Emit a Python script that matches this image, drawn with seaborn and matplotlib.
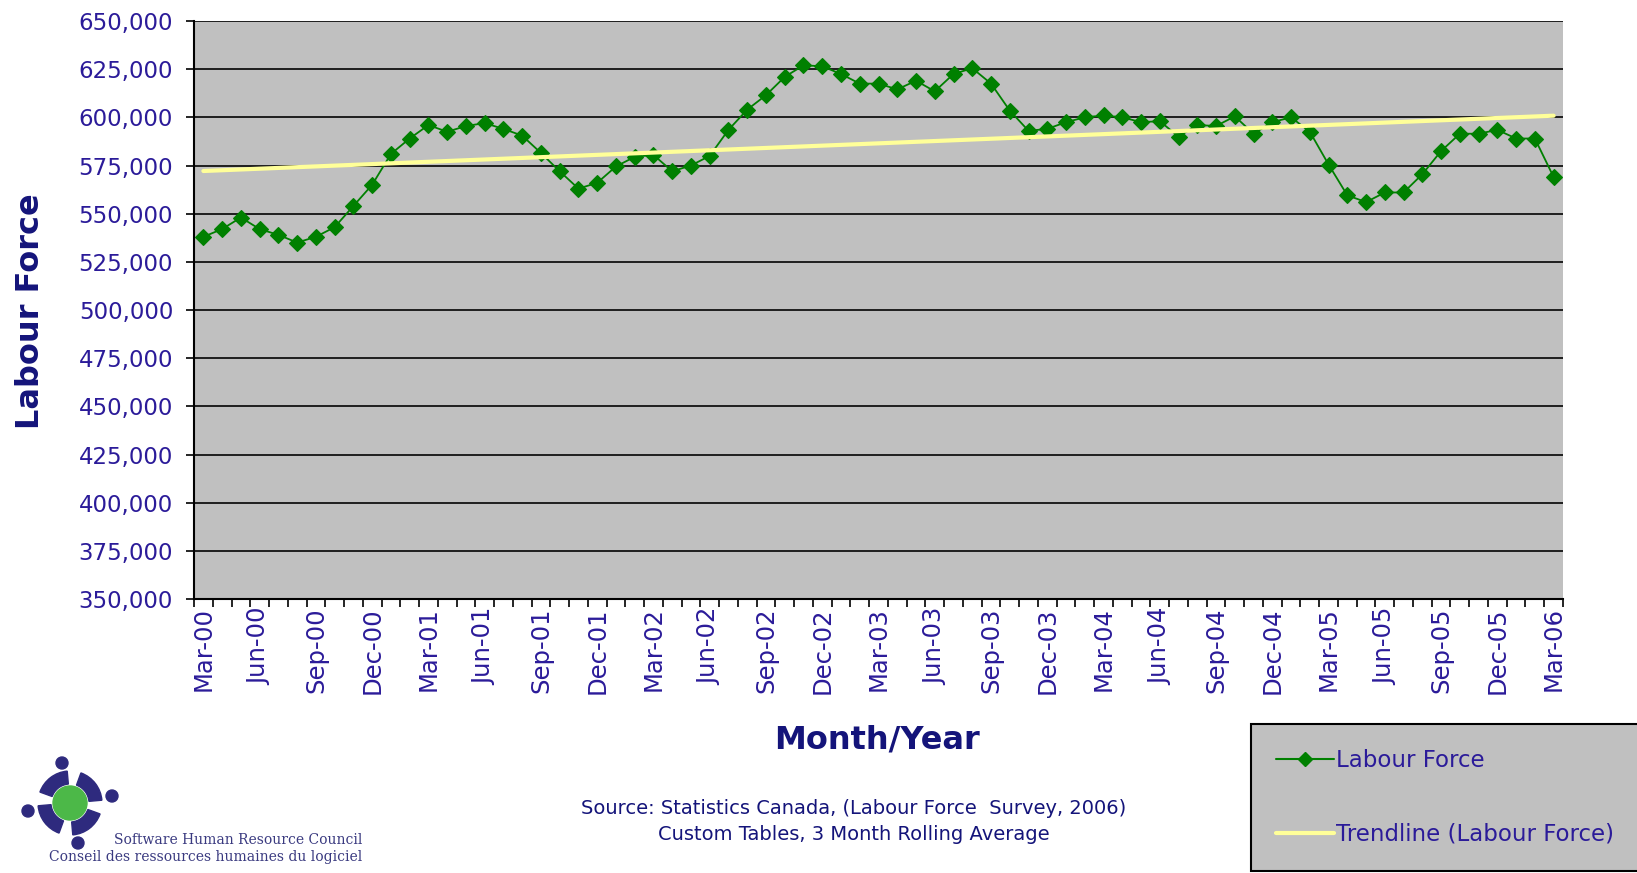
import numpy as np
import pandas as pd
import matplotlib
matplotlib.use("Agg")
import matplotlib.pyplot as plt
import seaborn as sns
from matplotlib.patches import Circle, Wedge
from matplotlib.lines import Line2D
from matplotlib.ticker import FuncFormatter

# ---------------- data ----------------
months = list(pd.date_range("2000-03-01", periods=73, freq="MS").strftime("%b-%y"))
labour_force = [
    538000, 542000, 548000, 542000, 539000, 535000, 538000, 543000, 554000, 565000,   # Mar-00 .. Dec-00
    581000, 589000, 596000, 592500, 595500, 597000, 594000, 590500, 581500, 572000,   # Jan-01 .. Oct-01
    563000, 566000, 574500, 579500, 580500, 572000, 575000, 580000, 593500, 604000,   # Nov-01 .. Aug-02
    611500, 621000, 627000, 626500, 622500, 617500, 617500, 614500, 619000, 613500,   # Sep-02 .. Jun-03
    622500, 625500, 617500, 603500, 593000, 594000, 597500, 600000, 601000, 600000,   # Jul-03 .. Apr-04
    597500, 598000, 590000, 596000, 595500, 600500, 591500, 597500, 600000, 592500,   # May-04 .. Feb-05
    575500, 559500, 556000, 561000, 561000, 570500, 582500, 591500, 591500, 593500,   # Mar-05 .. Dec-05
    589000, 589000, 569000,                                                           # Jan-06 .. Mar-06
]
y_ticks = list(range(350000, 650001, 25000))
x_label_step = 3
series_names = ["Labour Force", "Trendline (Labour Force)"]

# ---------------- style ----------------
sns.set_style("white")
plt.rcParams["font.family"] = ["DejaVu Sans"]

TICK_COLOR = "#2B1B99"
TITLE_COLOR = "#14147A"
GREEN = "#008000"
YELLOW = "#FFFF99"

W, H = 1637, 873
fig = plt.figure(figsize=(W / 100, H / 100), dpi=100)
ax = fig.add_axes([194 / W, 1 - 599 / H, 1369 / W, 578 / H])

df = pd.DataFrame({"idx": np.arange(len(months)), "month": months, "value": labour_force})
coef = np.polyfit(df["idx"], df["value"], 1)
df["trend"] = np.polyval(coef, df["idx"])

sns.lineplot(data=df, x="idx", y="value", ax=ax, color=GREEN, lw=1.3, marker="D",
             markersize=8, markeredgecolor=GREEN, markeredgewidth=0.8,
             errorbar=None, legend=False, zorder=3)
sns.lineplot(data=df, x="idx", y="trend", ax=ax, color=YELLOW, lw=3,
             errorbar=None, legend=False, zorder=4)

ax.set_facecolor("#C0C0C0")
ax.set_xlim(-0.5, len(months) - 0.5)
ax.set_ylim(y_ticks[0], y_ticks[-1])
ax.set_yticks(y_ticks)
ax.yaxis.set_major_formatter(FuncFormatter(lambda v, p: f"{v:,.0f}"))
ax.yaxis.grid(True, color="#1E1E1E", lw=1.4)
ax.xaxis.grid(False)
ax.set_axisbelow(True)

ax.set_xticks(df["idx"][::x_label_step])
ax.set_xticklabels(months[::x_label_step], rotation=90)
ax.set_xticks(np.arange(-0.5, len(months), 1), minor=True)
ax.tick_params(axis="x", which="major", length=0, pad=6, labelsize=17.5, labelcolor=TICK_COLOR)
ax.tick_params(axis="x", which="minor", length=6, width=1.2, color="black", direction="out", bottom=True)
ax.tick_params(axis="y", which="major", length=6, width=1.2, color="black", direction="out",
               left=True, pad=9, labelsize=16.5, labelcolor=TICK_COLOR)
ax.set_xlabel("")
ax.set_ylabel("")

for s in ["top", "right"]:
    ax.spines[s].set_visible(False)
for s in ["left", "bottom"]:
    ax.spines[s].set_color("black")
    ax.spines[s].set_linewidth(1.5)

# ---------------- titles ----------------
fig.text(31 / W, 1 - 311 / H, "Labour Force", rotation=90, ha="center", va="center",
         fontsize=23, fontweight="bold", color=TITLE_COLOR)
fig.text(877 / W, 1 - 740 / H, "Month/Year", ha="center", va="center",
         fontsize=23, fontweight="bold", color=TITLE_COLOR)
fig.text(854 / W, 1 - 809 / H, "Source: Statistics Canada, (Labour Force  Survey, 2006)",
         ha="center", va="center", fontsize=14, color=TITLE_COLOR)
fig.text(854 / W, 1 - 835 / H, "Custom Tables, 3 Month Rolling Average",
         ha="center", va="center", fontsize=14, color=TITLE_COLOR)

# ---------------- legend ----------------
handles = [Line2D([], [], color=GREEN, marker="D", ms=7, lw=1.5),
           Line2D([], [], color=YELLOW, lw=3)]
leg = fig.legend(handles, series_names, loc="upper left",
                 bbox_to_anchor=(1251 / W, 149 / H), bbox_transform=fig.transFigure,
                 frameon=True, fancybox=False, facecolor="#C0C0C0", edgecolor="black",
                 framealpha=1, fontsize=16.5, labelspacing=2.2, borderpad=1.1,
                 handlelength=2.5, handletextpad=0.1, borderaxespad=0, labelcolor=TICK_COLOR)
leg.get_frame().set_linewidth(1.5)

# ---------------- logo ----------------
lax = fig.add_axes([0, 0, 380 / W, 133 / H])
lax.set_xlim(0, 380)
lax.set_ylim(873, 740)
lax.axis("off")
cx, cy = 70, 803
BLUE = "#2E2A7E"
for a in [20, 110, 200, 290]:
    lax.add_patch(Wedge((cx, cy), 32, a, a + 65, width=13, color=BLUE))
for hx, hy in [(-8, -40), (42, -7), (8, 40), (-42, 8)]:
    lax.add_patch(Circle((cx + hx, cy + hy), 6, color=BLUE))
lax.add_patch(Circle((cx, cy), 17, color="#4CB848"))
fig.text(362 / W, 1 - 840 / H, "Software Human Resource Council", ha="right", va="center",
         family="DejaVu Serif", fontsize=10, color="#3A3A80")
fig.text(362 / W, 1 - 857 / H, "Conseil des ressources humaines du logiciel", ha="right", va="center",
         family="DejaVu Serif", fontsize=10, color="#3A3A80")

fig.savefig("out.png", dpi=100, facecolor="white")
